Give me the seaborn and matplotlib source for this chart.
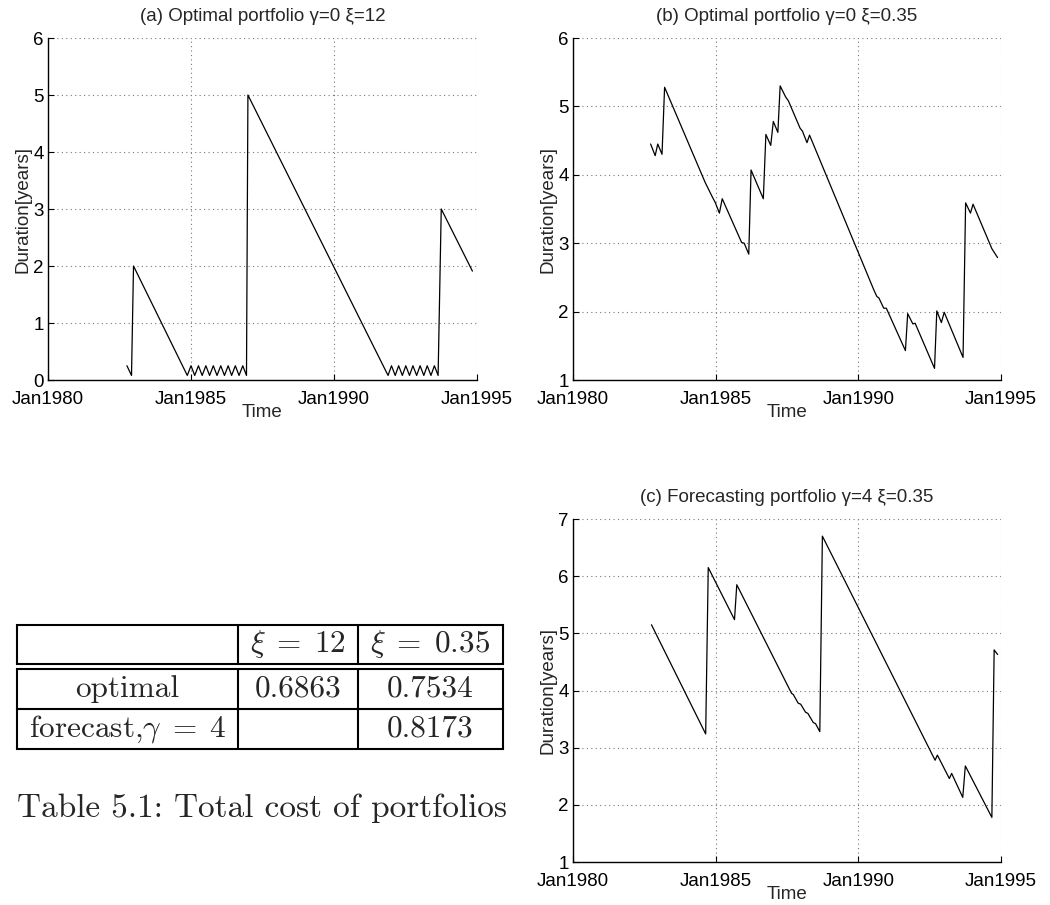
import matplotlib
matplotlib.use("Agg")
import matplotlib.pyplot as plt
from matplotlib.lines import Line2D
import seaborn as sns
import pandas as pd

# ---------------- data ----------------
# (a) Optimal portfolio gamma=0 xi=12  (vertices of the duration path, decimal years)
a_t = [1982.76, 1982.92, 1982.99, 1984.87,
       1985.00, 1985.13, 1985.26, 1985.39, 1985.52, 1985.65, 1985.78, 1985.91,
       1986.04, 1986.17, 1986.30, 1986.42, 1986.55, 1986.68, 1986.81, 1986.94,
       1986.99, 1991.89,
       1992.01, 1992.14, 1992.26, 1992.39, 1992.51, 1992.64, 1992.76, 1992.89,
       1993.01, 1993.14, 1993.26, 1993.39, 1993.51, 1993.64,
       1993.75, 1994.84]
a_v = [0.25, 0.08, 2.00, 0.08,
       0.25, 0.08, 0.25, 0.08, 0.25, 0.08, 0.25, 0.08,
       0.25, 0.08, 0.25, 0.08, 0.25, 0.08, 0.25, 0.08,
       5.00, 0.08,
       0.25, 0.08, 0.25, 0.08, 0.25, 0.08, 0.25, 0.08,
       0.25, 0.08, 0.25, 0.08, 0.25, 0.08,
       3.00, 1.91]

# (b) Optimal portfolio gamma=0 xi=0.35
b_t = [1982.72, 1982.88, 1982.97, 1983.12, 1983.21, 1984.63, 1984.89, 1984.98,
       1985.13, 1985.23, 1985.91, 1986.00, 1986.16, 1986.24, 1986.67, 1986.76,
       1986.93, 1987.02, 1987.18, 1987.26, 1987.45, 1987.55, 1987.96, 1988.04,
       1988.20, 1988.29, 1990.54, 1990.65, 1990.72, 1990.89, 1990.98, 1991.65,
       1991.73, 1991.91, 1991.99, 1992.67, 1992.75, 1992.91, 1993.01, 1993.67,
       1993.76, 1993.93, 1994.02, 1994.68, 1994.74, 1994.88]
b_v = [4.45, 4.28, 4.45, 4.30, 5.28, 3.89, 3.67, 3.60,
       3.44, 3.65, 3.01, 3.00, 2.84, 4.07, 3.65, 4.59,
       4.43, 4.78, 4.62, 5.30, 5.14, 5.08, 4.68, 4.64,
       4.47, 4.58, 2.32, 2.22, 2.20, 2.05, 2.05, 1.43,
       1.97, 1.82, 1.83, 1.17, 2.01, 1.84, 1.99, 1.33,
       3.59, 3.44, 3.57, 2.92, 2.88, 2.79]

# (c) Forecasting portfolio gamma=4 xi=0.35
c_t = [1982.75, 1984.65, 1984.74, 1985.66, 1985.74, 1987.66, 1987.72, 1987.89,
       1987.98, 1988.15, 1988.23, 1988.42, 1988.50, 1988.65, 1988.74, 1992.69,
       1992.77, 1993.19, 1993.27, 1993.66, 1993.75, 1994.68, 1994.76, 1994.88]
c_v = [5.15, 3.24, 6.15, 5.24, 5.85, 3.95, 3.93, 3.78,
       3.76, 3.62, 3.60, 3.44, 3.42, 3.28, 6.70, 2.78,
       2.87, 2.46, 2.55, 2.13, 2.68, 1.78, 4.71, 4.63]

x_ticks = [1980, 1985, 1990, 1995]
x_ticklabels = ["Jan1980", "Jan1985", "Jan1990", "Jan1995"]

titles = ["(a) Optimal portfolio \u03b3=0 \u03be=12",
          "(b) Optimal portfolio \u03b3=0 \u03be=0.35",
          "(c) Forecasting portfolio \u03b3=4 \u03be=0.35"]

table_cols = [r"$\xi\;=\;12$", r"$\xi\;=\;0.35$"]
table_rows = ["optimal", r"forecast,$\gamma\;=\;4$"]
table_vals = [["0.6863", "0.7534"], ["", "0.8173"]]
caption = "Table 5.1: Total cost of portfolios"

# ---------------- style ----------------
sns.set_style("white")
plt.rcParams["font.family"] = ["Liberation Sans", "DejaVu Sans"]
plt.rcParams["mathtext.fontset"] = "cm"

W, H = 1050, 905
fig = plt.figure(figsize=(W / 100, H / 100), dpi=100)


def fax(l, t, r, b):
    return fig.add_axes([l / W, 1 - b / H, (r - l) / W, (b - t) / H])


FS = 13.5


def panel(ax, t, v, ylim, title):
    df = pd.DataFrame({"Time": t, "Duration": v})
    sns.lineplot(data=df, x="Time", y="Duration", ax=ax, color="black",
                 linewidth=0.9, estimator=None, sort=False)
    ax.set_xlim(1980, 1995)
    ax.set_ylim(*ylim)
    ax.set_xticks(x_ticks)
    ax.set_xticklabels(x_ticklabels)
    ax.set_yticks(range(ylim[0], ylim[1] + 1))
    ax.tick_params(direction="in", length=4, width=0.8, labelsize=FS,
                   colors="black", left=True, bottom=True)
    ax.tick_params(axis="x", pad=8)
    ax.tick_params(axis="y", pad=3)
    ax.grid(True, linestyle=(0, (1, 3)), color="#777777", linewidth=0.8)
    for s in ["top", "right"]:
        ax.spines[s].set_visible(False)
    for s in ["left", "bottom"]:
        ax.spines[s].set_color("black")
        ax.spines[s].set_linewidth(1.0)
    ax.set_xlabel("Time", fontsize=FS, labelpad=-3)
    ax.set_ylabel("Duration[years]", fontsize=FS, labelpad=1)
    ax.set_title(title, fontsize=FS, pad=12)


axA = fax(48, 38, 477, 380)
axB = fax(573, 38, 1001, 380)
axC = fax(573, 519, 1001, 862)
panel(axA, a_t, a_v, (0, 6), titles[0])
panel(axB, b_t, b_v, (1, 6), titles[1])
panel(axC, c_t, c_v, (1, 7), titles[2])

# ---------------- table ----------------
def fx(x):
    return x / W


def fy(y):
    return 1 - y / H


LW = 1.5
xs = [17, 238, 358, 503]
y_head = (625, 664)
y_body = (669, 709, 749)
for y in [y_head[0], y_head[1], y_body[0], y_body[1], y_body[2]]:
    fig.add_artist(Line2D([fx(xs[0]), fx(xs[-1])], [fy(y), fy(y)],
                          transform=fig.transFigure, color="black", lw=LW,
                          solid_capstyle="projecting"))
for x in xs:
    fig.add_artist(Line2D([fx(x), fx(x)], [fy(y_head[0]), fy(y_head[1])],
                          transform=fig.transFigure, color="black", lw=LW))
    fig.add_artist(Line2D([fx(x), fx(x)], [fy(y_body[0]), fy(y_body[2])],
                          transform=fig.transFigure, color="black", lw=LW))

TFS = 22.5
col_c = [(xs[0] + xs[1]) / 2, (xs[1] + xs[2]) / 2, (xs[2] + xs[3]) / 2]
row_c = [(y_head[0] + y_head[1]) / 2, (y_body[0] + y_body[1]) / 2,
         (y_body[1] + y_body[2]) / 2]
for j, lab in enumerate(table_cols):
    fig.text(fx(col_c[j + 1]), fy(row_c[0]), lab, ha="center", va="center",
             fontsize=TFS, family="cmr10")
for i, lab in enumerate(table_rows):
    fig.text(fx(col_c[0]), fy(row_c[i + 1]), lab, ha="center", va="center",
             fontsize=TFS, family="cmr10")
    for j, val in enumerate(table_vals[i]):
        if val:
            fig.text(fx(col_c[j + 1]), fy(row_c[i + 1]), val, ha="center",
                     va="center", fontsize=TFS, family="cmr10")

fig.text(fx(262), fy(808), caption, ha="center", va="center",
         fontsize=24, family="cmr10")

fig.savefig("out.png", dpi=100)
